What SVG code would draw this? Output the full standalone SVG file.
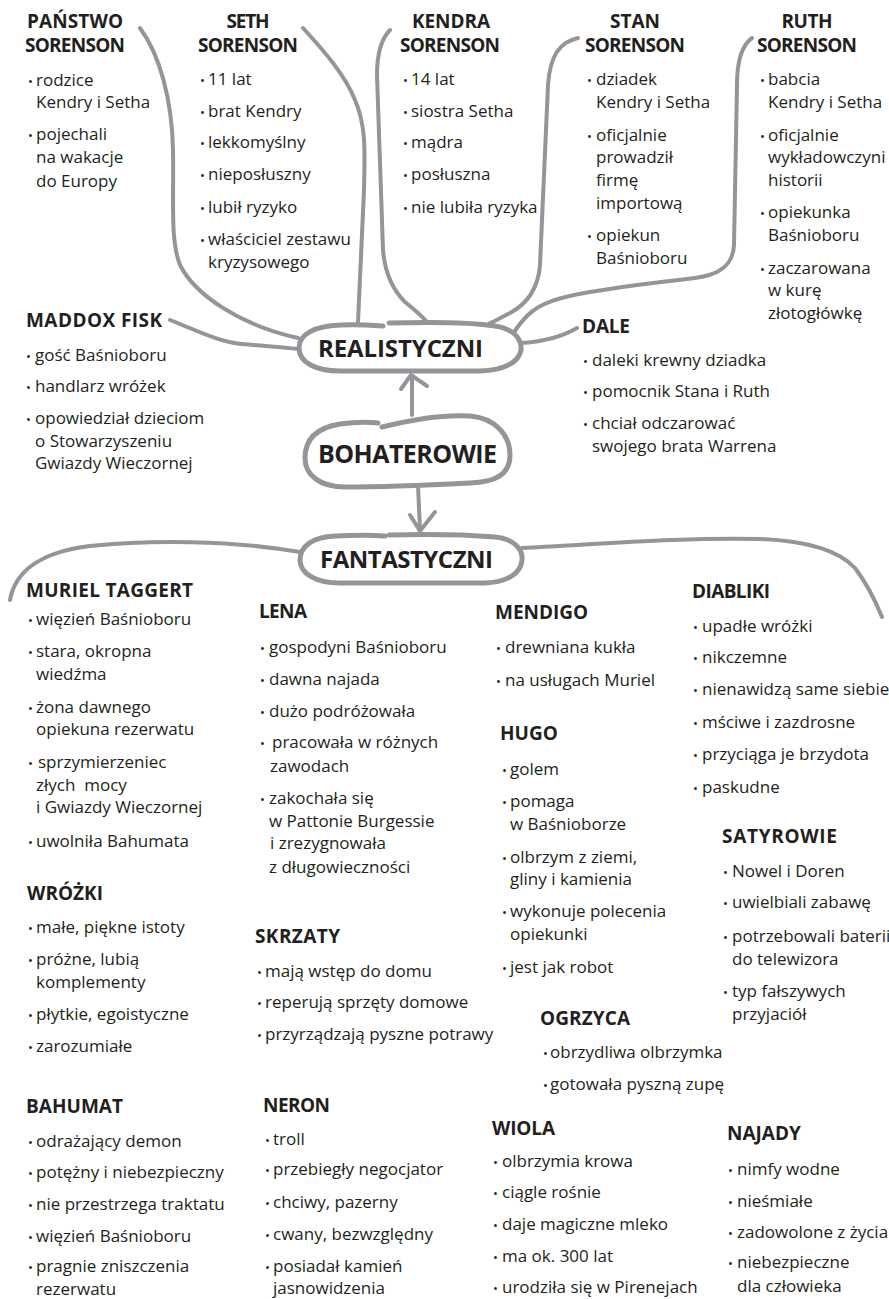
<svg xmlns="http://www.w3.org/2000/svg" width="889" height="1299" viewBox="0 0 889 1299">
<style>
text{font-family:"Open Sans","Noto Sans","DejaVu Sans",sans-serif;fill:#231f20}
.h{font-weight:700;font-size:19px}
.t{font-size:17px}
.b{font-size:13px}
.c{font-weight:700;font-size:24px}
.ln{fill:none;stroke:#939598;stroke-width:4;stroke-linecap:round;stroke-linejoin:round}
.nd{fill:#ffffff;stroke:#939598;stroke-width:5;stroke-linecap:round;stroke-linejoin:round}
</style>
<rect width="889" height="1299" fill="#ffffff"/>

<g id="connectors">
<path class="ln" d="M140,28 C160,55 172,100 173,150 C174,200 170,240 180,265 C195,295 240,325 298,338"/>
<path class="ln" d="M303,28 C325,52 345,75 355,100 C366,125 365,150 364,190 L358,322"/>
<path class="ln" d="M390,30 C380,40 377,55 377,75 L383,250 C385,275 395,292 405,302 C415,310 422,316 427,322"/>
<path class="ln" d="M578,38 C560,42 550,55 548,85 L540,265 C538,290 525,305 510,313 C500,318 495,321 490,323"/>
<path class="ln" d="M752,38 C742,45 737,62 737,85 L734,245 C733,265 720,275 695,278 C660,282 620,287 590,292 C560,297 540,303 528,315 C522,321 518,326 515,331"/>
<path class="ln" d="M170,320 C200,332 220,342 242,344 C262,346 280,347 298,349"/>
<path class="ln" d="M520,343 C540,342 560,338 577,328"/>
<path class="ln" d="M412,415 L412,377"/>
<path class="ln" d="M401,389 L411,375 L427,386"/>
<path class="ln" d="M418,485 L420,530"/>
<path class="ln" d="M410,515 L420,531 L435,512"/>
<path class="ln" d="M10,600 C15,572 40,552 90,546 C150,540 230,540 300,552"/>
<path class="ln" d="M522,548 C600,544 690,537 760,539 C810,541 840,552 855,568 C868,585 875,600 882,617"/>
</g>

<g id="realistyczni">
<path class="nd" d="M389,323 C430,322 470,322 495,326 C515,329 522,340 521,350 C519,362 505,370 480,371 L340,371 C315,371 299,362 299,348 C299,334 315,326 340,325 C355,324 370,325 383,326"/>
<text class="c" x="318" y="357" textLength="165">REALISTYCZNI</text>
</g>

<g id="bohaterowie">
<path class="nd" d="M382,427 C410,420 440,414 470,416 C495,418 510,435 510,455 C510,475 495,482 470,483 C430,485 380,487 345,487 C320,487 305,475 305,458 C305,440 315,428 340,424 C355,422 368,422 378,423"/>
<text class="c" x="318" y="463" style="font-size:25px" textLength="179">BOHATEROWIE</text>
</g>

<g id="fantastyczni">
<path class="nd" d="M389,535 C430,534 470,535 495,537 C515,539 523,550 522,560 C521,573 508,582 485,583 L340,583 C315,583 300,573 300,560 C300,546 313,537 335,536 C355,535 372,535 385,536"/>
<text class="c" x="320" y="568" textLength="173">FANTASTYCZNI</text>
</g>

<g id="panstwo-sorenson">
<text class="h" x="75" y="28" text-anchor="middle" textLength="96">PAŃSTWO</text>
<text class="h" x="75" y="52" text-anchor="middle" textLength="100">SORENSON</text>
<text class="t" y="86"><tspan class="b" x="28">•</tspan><tspan x="36">rodzice</tspan></text>
<text class="t" x="36" y="108">Kendry i Setha</text>
<text class="t" y="140"><tspan class="b" x="28">•</tspan><tspan x="36">pojechali</tspan></text>
<text class="t" x="36" y="163">na wakacje</text>
<text class="t" x="36" y="187">do Europy</text>
</g>

<g id="seth-sorenson">
<text class="h" x="248" y="28" text-anchor="middle" textLength="43">SETH</text>
<text class="h" x="248" y="52" text-anchor="middle" textLength="100">SORENSON</text>
<text class="t" y="85"><tspan class="b" x="200">•</tspan><tspan x="208">11 lat</tspan></text>
<text class="t" y="117"><tspan class="b" x="200">•</tspan><tspan x="208">brat Kendry</tspan></text>
<text class="t" y="148"><tspan class="b" x="200">•</tspan><tspan x="208">lekkomyślny</tspan></text>
<text class="t" y="180"><tspan class="b" x="200">•</tspan><tspan x="208">nieposłuszny</tspan></text>
<text class="t" y="213"><tspan class="b" x="200">•</tspan><tspan x="208">lubił ryzyko</tspan></text>
<text class="t" y="245"><tspan class="b" x="200">•</tspan><tspan x="208">właściciel zestawu</tspan></text>
<text class="t" x="208" y="268">kryzysowego</text>
</g>

<g id="kendra-sorenson">
<text class="h" x="451" y="28" text-anchor="middle" textLength="78">KENDRA</text>
<text class="h" x="450" y="52" text-anchor="middle" textLength="100">SORENSON</text>
<text class="t" y="85"><tspan class="b" x="403">•</tspan><tspan x="411">14 lat</tspan></text>
<text class="t" y="117"><tspan class="b" x="403">•</tspan><tspan x="411">siostra Setha</tspan></text>
<text class="t" y="148"><tspan class="b" x="403">•</tspan><tspan x="411">mądra</tspan></text>
<text class="t" y="180"><tspan class="b" x="403">•</tspan><tspan x="411">posłuszna</tspan></text>
<text class="t" y="213"><tspan class="b" x="403">•</tspan><tspan x="411">nie lubiła ryzyka</tspan></text>
</g>

<g id="stan-sorenson">
<text class="h" x="635" y="28" text-anchor="middle" textLength="50">STAN</text>
<text class="h" x="635" y="52" text-anchor="middle" textLength="100">SORENSON</text>
<text class="t" y="85"><tspan class="b" x="587">•</tspan><tspan x="596">dziadek</tspan></text>
<text class="t" x="596" y="108">Kendry i Setha</text>
<text class="t" y="141"><tspan class="b" x="587">•</tspan><tspan x="596">oficjalnie</tspan></text>
<text class="t" x="596" y="163">prowadził</text>
<text class="t" x="596" y="186">firmę</text>
<text class="t" x="596" y="209">importową</text>
<text class="t" y="241"><tspan class="b" x="587">•</tspan><tspan x="596">opiekun</tspan></text>
<text class="t" x="596" y="264">Baśnioboru</text>
</g>

<g id="ruth-sorenson">
<text class="h" x="807" y="28" text-anchor="middle" textLength="51">RUTH</text>
<text class="h" x="807" y="52" text-anchor="middle" textLength="100">SORENSON</text>
<text class="t" y="85"><tspan class="b" x="760">•</tspan><tspan x="768">babcia</tspan></text>
<text class="t" x="768" y="108">Kendry i Setha</text>
<text class="t" y="141"><tspan class="b" x="760">•</tspan><tspan x="768">oficjalnie</tspan></text>
<text class="t" x="768" y="163">wykładowczyni</text>
<text class="t" x="768" y="186">historii</text>
<text class="t" y="218"><tspan class="b" x="760">•</tspan><tspan x="768">opiekunka</tspan></text>
<text class="t" x="768" y="241">Baśnioboru</text>
<text class="t" y="274"><tspan class="b" x="760">•</tspan><tspan x="768">zaczarowana</tspan></text>
<text class="t" x="768" y="296">w kurę</text>
<text class="t" x="768" y="319">złotogłówkę</text>
</g>

<g id="maddox-fisk">
<text class="h" x="26" y="327" textLength="136">MADDOX FISK</text>
<text class="t" y="361"><tspan class="b" x="26">•</tspan><tspan x="35">gość Baśnioboru</tspan></text>
<text class="t" y="392"><tspan class="b" x="26">•</tspan><tspan x="35">handlarz wróżek</tspan></text>
<text class="t" y="424"><tspan class="b" x="26">•</tspan><tspan x="35">opowiedział dzieciom</tspan></text>
<text class="t" x="35" y="447">o Stowarzyszeniu</text>
<text class="t" x="35" y="469">Gwiazdy Wieczornej</text>
</g>

<g id="dale">
<text class="h" x="582" y="333" textLength="48">DALE</text>
<text class="t" y="366"><tspan class="b" x="583">•</tspan><tspan x="592">daleki krewny dziadka</tspan></text>
<text class="t" y="397"><tspan class="b" x="583">•</tspan><tspan x="592">pomocnik Stana i Ruth</tspan></text>
<text class="t" y="429"><tspan class="b" x="583">•</tspan><tspan x="592">chciał odczarować</tspan></text>
<text class="t" x="592" y="452">swojego brata Warrena</text>
</g>

<g id="muriel-taggert">
<text class="h" x="26" y="597" textLength="167">MURIEL TAGGERT</text>
<text class="t" y="625"><tspan class="b" x="28">•</tspan><tspan x="36">więzień Baśnioboru</tspan></text>
<text class="t" y="657"><tspan class="b" x="28">•</tspan><tspan x="36">stara, okropna</tspan></text>
<text class="t" x="36" y="680">wiedźma</text>
<text class="t" y="713"><tspan class="b" x="28">•</tspan><tspan x="36">żona dawnego</tspan></text>
<text class="t" x="36" y="735">opiekuna rezerwatu</text>
<text class="t" y="768"><tspan class="b" x="28">•</tspan><tspan x="38">sprzymierzeniec</tspan></text>
<text class="t" x="36" y="791" xml:space="preserve" style="white-space:pre">złych  mocy</text>
<text class="t" x="36" y="813">i Gwiazdy Wieczornej</text>
<text class="t" y="847"><tspan class="b" x="28">•</tspan><tspan x="36">uwolniła Bahumata</tspan></text>
</g>

<g id="wrozki">
<text class="h" x="27" y="900" textLength="76">WRÓŻKI</text>
<text class="t" y="933"><tspan class="b" x="28">•</tspan><tspan x="36">małe, piękne istoty</tspan></text>
<text class="t" y="965"><tspan class="b" x="28">•</tspan><tspan x="36">próżne, lubią</tspan></text>
<text class="t" x="36" y="988">komplementy</text>
<text class="t" y="1020"><tspan class="b" x="28">•</tspan><tspan x="36">płytkie, egoistyczne</tspan></text>
<text class="t" y="1052"><tspan class="b" x="28">•</tspan><tspan x="36">zarozumiałe</tspan></text>
</g>

<g id="bahumat">
<text class="h" x="26" y="1113" textLength="97">BAHUMAT</text>
<text class="t" y="1147"><tspan class="b" x="28">•</tspan><tspan x="36">odrażający demon</tspan></text>
<text class="t" y="1178"><tspan class="b" x="28">•</tspan><tspan x="36">potężny i niebezpieczny</tspan></text>
<text class="t" y="1210"><tspan class="b" x="28">•</tspan><tspan x="36">nie przestrzega traktatu</tspan></text>
<text class="t" y="1242"><tspan class="b" x="28">•</tspan><tspan x="36">więzień Baśnioboru</tspan></text>
<text class="t" y="1272"><tspan class="b" x="28">•</tspan><tspan x="36">pragnie zniszczenia</tspan></text>
<text class="t" x="36" y="1295">rezerwatu</text>
</g>

<g id="lena">
<text class="h" x="259" y="618" textLength="48">LENA</text>
<text class="t" y="653"><tspan class="b" x="260">•</tspan><tspan x="269">gospodyni Baśnioboru</tspan></text>
<text class="t" y="685"><tspan class="b" x="260">•</tspan><tspan x="269">dawna najada</tspan></text>
<text class="t" y="717"><tspan class="b" x="260">•</tspan><tspan x="269">dużo podróżowała</tspan></text>
<text class="t" y="748"><tspan class="b" x="260">•</tspan><tspan x="272">pracowała w różnych</tspan></text>
<text class="t" x="270" y="772">zawodach</text>
<text class="t" y="804"><tspan class="b" x="260">•</tspan><tspan x="269">zakochała się</tspan></text>
<text class="t" x="269" y="827">w Pattonie Burgessie</text>
<text class="t" x="270" y="849">i zrezygnowała</text>
<text class="t" x="269" y="873">z długowieczności</text>
</g>

<g id="skrzaty">
<text class="h" x="255" y="943" textLength="85">SKRZATY</text>
<text class="t" y="977"><tspan class="b" x="257">•</tspan><tspan x="265">mają wstęp do domu</tspan></text>
<text class="t" y="1008"><tspan class="b" x="257">•</tspan><tspan x="265">reperują sprzęty domowe</tspan></text>
<text class="t" y="1040"><tspan class="b" x="257">•</tspan><tspan x="265">przyrządzają pyszne potrawy</tspan></text>
</g>

<g id="neron">
<text class="h" x="263" y="1112" textLength="67">NERON</text>
<text class="t" y="1145"><tspan class="b" x="265">•</tspan><tspan x="273">troll</tspan></text>
<text class="t" y="1175"><tspan class="b" x="265">•</tspan><tspan x="273">przebiegły negocjator</tspan></text>
<text class="t" y="1208"><tspan class="b" x="265">•</tspan><tspan x="273">chciwy, pazerny</tspan></text>
<text class="t" y="1240"><tspan class="b" x="265">•</tspan><tspan x="273">cwany, bezwzględny</tspan></text>
<text class="t" y="1272"><tspan class="b" x="265">•</tspan><tspan x="273">posiadał kamień</tspan></text>
<text class="t" x="273" y="1294">jasnowidzenia</text>
</g>

<g id="mendigo">
<text class="h" x="495" y="619">MENDIGO</text>
<text class="t" y="653"><tspan class="b" x="496">•</tspan><tspan x="505">drewniana kukła</tspan></text>
<text class="t" y="686"><tspan class="b" x="496">•</tspan><tspan x="505">na usługach Muriel</tspan></text>
</g>

<g id="hugo">
<text class="h" x="500" y="740">HUGO</text>
<text class="t" y="775"><tspan class="b" x="502">•</tspan><tspan x="510">golem</tspan></text>
<text class="t" y="807"><tspan class="b" x="502">•</tspan><tspan x="510">pomaga</tspan></text>
<text class="t" x="510" y="830">w Baśnioborze</text>
<text class="t" y="863"><tspan class="b" x="502">•</tspan><tspan x="510">olbrzym z ziemi,</tspan></text>
<text class="t" x="510" y="885">gliny i kamienia</text>
<text class="t" y="917"><tspan class="b" x="502">•</tspan><tspan x="510">wykonuje polecenia</tspan></text>
<text class="t" x="510" y="940">opiekunki</text>
<text class="t" y="973"><tspan class="b" x="502">•</tspan><tspan x="510">jest jak robot</tspan></text>
</g>

<g id="ogrzyca">
<text class="h" x="540" y="1025" textLength="90">OGRZYCA</text>
<text class="t" y="1058"><tspan class="b" x="543">•</tspan><tspan x="550">obrzydliwa olbrzymka</tspan></text>
<text class="t" y="1090"><tspan class="b" x="543">•</tspan><tspan x="550">gotowała pyszną zupę</tspan></text>
</g>

<g id="wiola">
<text class="h" x="492" y="1135" textLength="63">WIOLA</text>
<text class="t" y="1167"><tspan class="b" x="493">•</tspan><tspan x="502">olbrzymia krowa</tspan></text>
<text class="t" y="1198"><tspan class="b" x="493">•</tspan><tspan x="502">ciągle rośnie</tspan></text>
<text class="t" y="1230"><tspan class="b" x="493">•</tspan><tspan x="502">daje magiczne mleko</tspan></text>
<text class="t" y="1262"><tspan class="b" x="493">•</tspan><tspan x="502">ma ok. 300 lat</tspan></text>
<text class="t" y="1293"><tspan class="b" x="493">•</tspan><tspan x="502">urodziła się w Pirenejach</tspan></text>
</g>

<g id="diabliki">
<text class="h" x="692" y="598" textLength="78">DIABLIKI</text>
<text class="t" y="632"><tspan class="b" x="693">•</tspan><tspan x="702">upadłe wróżki</tspan></text>
<text class="t" y="663"><tspan class="b" x="693">•</tspan><tspan x="702">nikczemne</tspan></text>
<text class="t" y="695"><tspan class="b" x="693">•</tspan><tspan x="702">nienawidzą same siebie</tspan></text>
<text class="t" y="728"><tspan class="b" x="693">•</tspan><tspan x="702">mściwe i zazdrosne</tspan></text>
<text class="t" y="760"><tspan class="b" x="693">•</tspan><tspan x="702">przyciąga je brzydota</tspan></text>
<text class="t" y="793"><tspan class="b" x="693">•</tspan><tspan x="702">paskudne</tspan></text>
</g>

<g id="satyrowie">
<text class="h" x="722" y="843" textLength="115">SATYROWIE</text>
<text class="t" y="877"><tspan class="b" x="723">•</tspan><tspan x="732">Nowel i Doren</tspan></text>
<text class="t" y="908"><tspan class="b" x="723">•</tspan><tspan x="732">uwielbiali zabawę</tspan></text>
<text class="t" y="942"><tspan class="b" x="723">•</tspan><tspan x="732">potrzebowali baterii</tspan></text>
<text class="t" x="732" y="965">do telewizora</text>
<text class="t" y="997"><tspan class="b" x="723">•</tspan><tspan x="732">typ fałszywych</tspan></text>
<text class="t" x="732" y="1020">przyjaciół</text>
</g>

<g id="najady">
<text class="h" x="727" y="1140">NAJADY</text>
<text class="t" y="1175"><tspan class="b" x="728">•</tspan><tspan x="737">nimfy wodne</tspan></text>
<text class="t" y="1207"><tspan class="b" x="728">•</tspan><tspan x="737">nieśmiałe</tspan></text>
<text class="t" y="1238"><tspan class="b" x="728">•</tspan><tspan x="737">zadowolone z życia</tspan></text>
<text class="t" y="1268"><tspan class="b" x="728">•</tspan><tspan x="737">niebezpieczne</tspan></text>
<text class="t" x="737" y="1292">dla człowieka</text>
</g>
</svg>
